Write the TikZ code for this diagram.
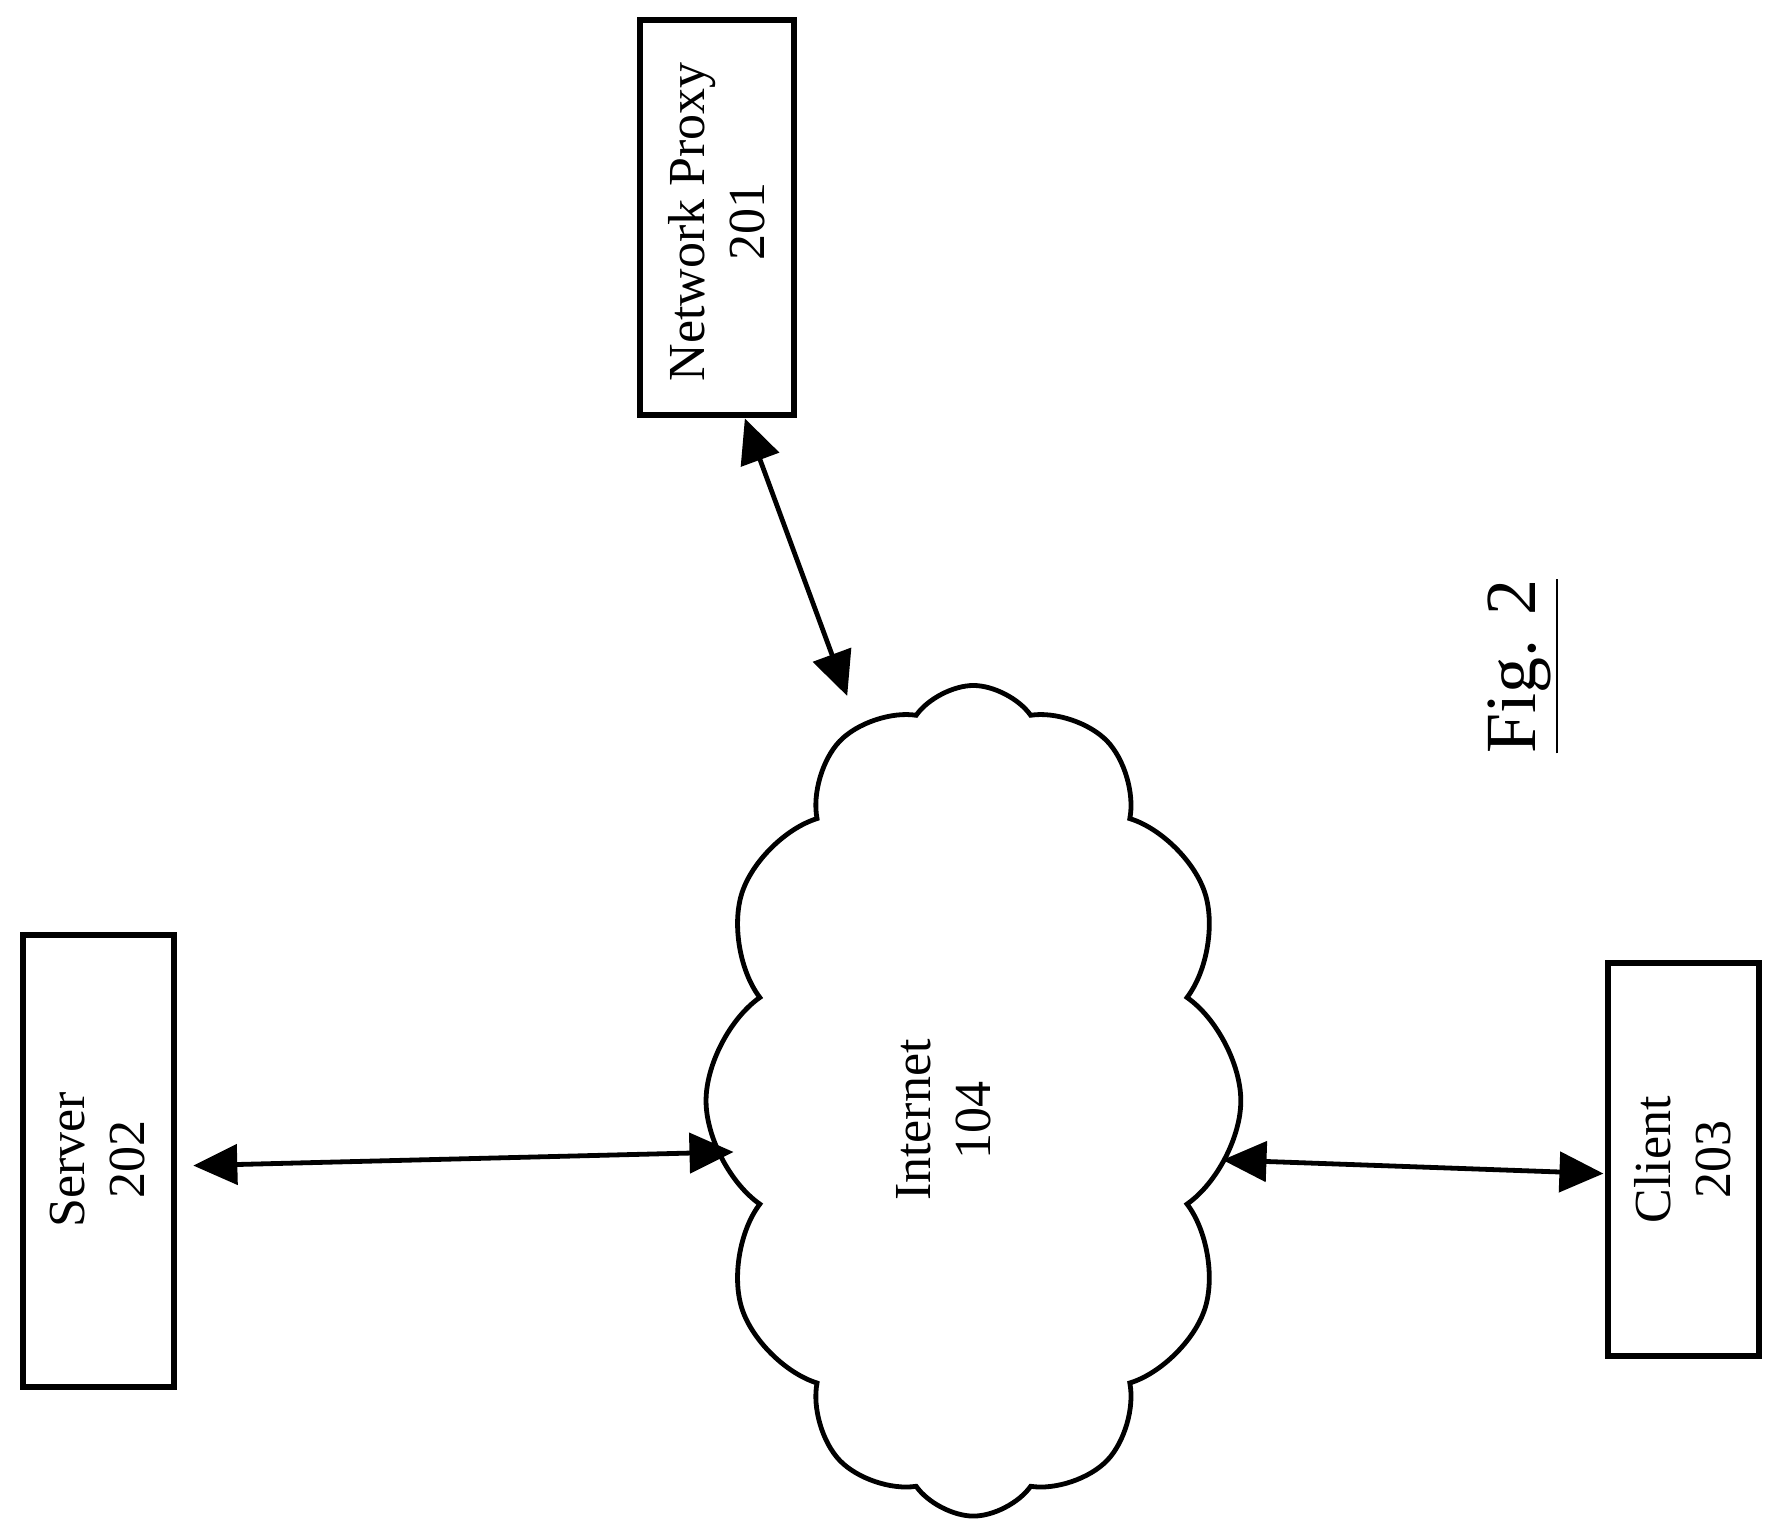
\documentclass[tikz,border=0pt]{standalone}
\usepackage{fontspec}
\setmainfont{Liberation Serif}
\usetikzlibrary{shapes.symbols,arrows.meta}
\begin{document}
\begin{tikzpicture}[x=0.01cm,y=-0.01cm,
  box/.style={draw,line width=1.5pt,inner sep=0},
  lbl/.style={rotate=90,align=center,font=\fontsize{13}{15}\selectfont},
  arr/.style={line width=1.2pt,{Triangle[length=11pt,width=10pt]}-{Triangle[length=11pt,width=10pt]}}]
\useasboundingbox (0,0) rectangle (1560,1346);
\draw[box] (563,18) rectangle (698,365);
\node[lbl] (proxy) at (630,195) {Network Proxy\\201};
\draw[box] (20,822) rectangle (153,1220);
\node[lbl] (server) at (86,1020) {Server\\202};
\draw[box] (1414,847) rectangle (1547,1192);
\node[lbl] (client) at (1480,1020) {Client\\203};
\node[cloud,draw,line width=1.2pt,cloud puffs=12,cloud puff arc=110,rotate=90,minimum width=7.3cm,minimum height=4.7cm,inner sep=0] (cloud) at (856,968) {};
\node[lbl] (inet) at (830,985) {Internet\\104};
\node[rotate=90,font=\fontsize{18}{20}\selectfont] (fig) at (1340,586) {\underline{Fig. 2}};
\coordinate (p1) at (655,368); \coordinate (c1) at (745,612);
\coordinate (s1) at (170,1025); \coordinate (c2) at (645,1013);
\coordinate (c3) at (1075,1020); \coordinate (k1) at (1410,1032);
\draw[arr] (p1) -- (c1);
\draw[arr] (s1) -- (c2);
\draw[arr] (c3) -- (k1);
\end{tikzpicture}
\end{document}
